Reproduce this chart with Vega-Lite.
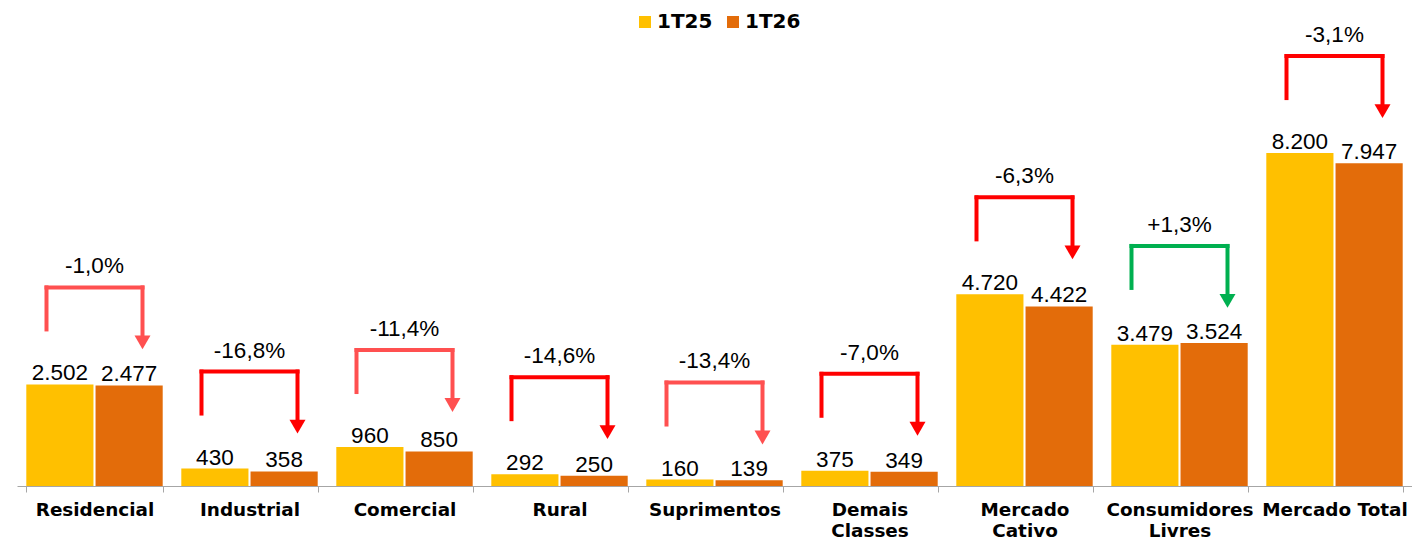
{
  "$schema": "https://vega.github.io/schema/vega-lite/v6.json",
  "autosize": {"type": "none"},
  "width": 1395,
  "height": 486,
  "padding": {"left": 17, "top": 0, "right": 0, "bottom": 54},
  "background": "white",
  "data": {
    "values": [
      {"classe": "Residencial", "1T25": 2502, "1T26": 2477, "variacao": "-1,0%", "seta": "queda A"},
      {"classe": "Industrial", "1T25": 430, "1T26": 358, "variacao": "-16,8%", "seta": "queda B"},
      {"classe": "Comercial", "1T25": 960, "1T26": 850, "variacao": "-11,4%", "seta": "queda A"},
      {"classe": "Rural", "1T25": 292, "1T26": 250, "variacao": "-14,6%", "seta": "queda B"},
      {"classe": "Suprimentos", "1T25": 160, "1T26": 139, "variacao": "-13,4%", "seta": "queda A"},
      {"classe": "Demais Classes", "1T25": 375, "1T26": 349, "variacao": "-7,0%", "seta": "queda B"},
      {"classe": "Mercado Cativo", "1T25": 4720, "1T26": 4422, "variacao": "-6,3%", "seta": "queda B"},
      {"classe": "Consumidores Livres", "1T25": 3479, "1T26": 3524, "variacao": "+1,3%", "seta": "alta"},
      {"classe": "Mercado Total", "1T25": 8200, "1T26": 7947, "variacao": "-3,1%", "seta": "queda B"}
    ]
  },
  "encoding": {
    "x": {
      "field": "classe",
      "type": "nominal",
      "sort": null,
      "scale": {"paddingInner": 0.12, "paddingOuter": 0.06},
      "axis": {
        "title": null,
        "labelAngle": 0,
        "labelExpr": "datum.value == 'Demais Classes' ? ['Demais', 'Classes'] : datum.value == 'Mercado Cativo' ? ['Mercado', 'Cativo'] : datum.value == 'Consumidores Livres' ? ['Consumidores', 'Livres'] : datum.label"
      }
    }
  },
  "transform": [
    {"calculate": "max(datum['1T25'], datum['1T26']) + 2389", "as": "topo"},
    {"calculate": "datum.topo + 49", "as": "sup"},
    {"calculate": "datum.topo - 1084", "as": "base_esq"},
    {"calculate": "datum.topo - 1232", "as": "fim_seta"},
    {"calculate": "datum.topo - 1355", "as": "ponta"},
    {"calculate": "datum.topo + 345", "as": "rotulo_y"}
  ],
  "layer": [
    {
      "transform": [{"fold": ["1T25", "1T26"], "as": ["serie", "mwh"]}],
      "mark": {"type": "bar"},
      "encoding": {
        "xOffset": {"field": "serie", "type": "nominal", "scale": {"paddingInner": 0.03}},
        "y": {"field": "mwh", "type": "quantitative", "scale": {"domain": [0, 11970], "nice": false}, "axis": null},
        "color": {
          "field": "serie",
          "type": "nominal",
          "scale": {"domain": ["1T25", "1T26"], "range": ["#FFC000", "#E36C0A"]},
          "legend": {
            "title": null,
            "orient": "none",
            "direction": "horizontal",
            "legendX": 618,
            "legendY": 12,
            "symbolType": "square",
            "symbolSize": 144,
            "symbolStrokeWidth": 0,
            "labelFont": "DejaVu Sans",
            "labelFontWeight": "bold",
            "labelFontSize": 20,
            "labelColor": "#000000",
            "labelOffset": 2,
            "columnPadding": 10
          }
        }
      }
    },
    {
      "transform": [{"fold": ["1T25", "1T26"], "as": ["serie", "mwh"]}],
      "mark": {"type": "text", "baseline": "alphabetic", "dy": -4, "font": "Liberation Sans", "fontSize": 22.5, "color": "#000000"},
      "encoding": {
        "xOffset": {"field": "serie", "type": "nominal", "scale": {"paddingInner": 0.03}},
        "y": {"field": "mwh", "type": "quantitative", "scale": {"domain": [0, 11970], "nice": false}},
        "text": {"field": "mwh", "type": "quantitative", "format": ",d"}
      }
    },
    {
      "mark": {"type": "rule", "strokeWidth": 4, "xOffset": -48},
      "encoding": {
        "y": {"field": "sup", "type": "quantitative", "scale": {"domain": [0, 11970], "nice": false}},
        "y2": {"field": "base_esq"},
        "color": {"field": "seta", "type": "nominal", "scale": {"domain": ["queda A", "queda B", "alta"], "range": ["#FF5050", "#FF0000", "#00B050"]}, "legend": null}
      }
    },
    {
      "mark": {"type": "rule", "strokeWidth": 4, "xOffset": 48},
      "encoding": {
        "y": {"field": "sup", "type": "quantitative", "scale": {"domain": [0, 11970], "nice": false}},
        "y2": {"field": "fim_seta"},
        "color": {"field": "seta", "type": "nominal", "scale": {"domain": ["queda A", "queda B", "alta"], "range": ["#FF5050", "#FF0000", "#00B050"]}, "legend": null}
      }
    },
    {
      "mark": {"type": "tick", "size": 100, "thickness": 4, "orient": "horizontal", "opacity": 1},
      "encoding": {
        "y": {"field": "topo", "type": "quantitative", "scale": {"domain": [0, 11970], "nice": false}},
        "color": {"field": "seta", "type": "nominal", "scale": {"domain": ["queda A", "queda B", "alta"], "range": ["#FF5050", "#FF0000", "#00B050"]}, "legend": null}
      }
    },
    {
      "mark": {"type": "point", "shape": "triangle-down", "size": 256, "filled": true, "opacity": 1, "xOffset": 48},
      "encoding": {
        "y": {"field": "ponta", "type": "quantitative", "scale": {"domain": [0, 11970], "nice": false}},
        "color": {"field": "seta", "type": "nominal", "scale": {"domain": ["queda A", "queda B", "alta"], "range": ["#FF5050", "#FF0000", "#00B050"]}, "legend": null}
      }
    },
    {
      "mark": {"type": "text", "baseline": "alphabetic", "font": "Liberation Sans", "fontSize": 22.5, "color": "#000000"},
      "encoding": {
        "y": {"field": "rotulo_y", "type": "quantitative", "scale": {"domain": [0, 11970], "nice": false}},
        "text": {"field": "variacao", "type": "nominal"}
      }
    }
  ],
  "resolve": {"scale": {"color": "independent"}},
  "config": {
    "locale": {"number": {"decimal": ",", "thousands": ".", "grouping": [3], "currency": ["R$", ""]}},
    "view": {"stroke": null},
    "axis": {
      "grid": false,
      "labelFont": "DejaVu Sans",
      "labelFontWeight": "bold",
      "labelFontSize": 18.4,
      "labelColor": "#000000",
      "labelPadding": 8,
      "labelLineHeight": 21,
      "labelLimit": 0,
      "domainColor": "#A6A6A6",
      "tickColor": "#A6A6A6",
      "tickSize": 6,
      "tickBand": "extent",
      "labelOverlap": false
    }
  }
}
